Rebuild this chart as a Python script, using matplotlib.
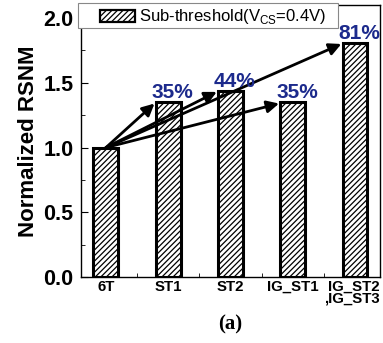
import matplotlib
matplotlib.use('Agg')
import matplotlib.pyplot as plt
from matplotlib.patches import Rectangle
from matplotlib.ticker import MultipleLocator
import numpy as np

cells = ['6T', 'ST1', 'ST2', 'IG_ST1', 'IG_ST2\n,IG_ST3']
rsnm = [1.0, 1.35, 1.44, 1.35, 1.81]
legend_label = 'Sub-threshold(V$_{\\mathregular{CS}}$=0.4V)'

plt.rcParams['font.family'] = ['Liberation Sans', 'DejaVu Sans']
plt.rcParams['hatch.linewidth'] = 0.9

fig = plt.figure(figsize=(3.83, 3.43), dpi=100)
ax = fig.add_axes([0.2115, 0.1924, 0.7805, 0.7926])

x = np.arange(len(cells))
w = 0.4
ax.bar(x, rsnm, width=w, color='white', edgecolor='black',
       linewidth=2.2, hatch='//////', zorder=2)

# arrows from the 6T reference to each improved cell
base = rsnm[0]
for i in range(1, len(cells)):
    ax.annotate('', xy=(x[i] - w / 2 - 0.02, rsnm[i] - 0.01), xytext=(x[0], base),
                arrowprops=dict(arrowstyle='-|>', color='black', lw=2.0,
                                mutation_scale=18, shrinkA=0, shrinkB=0),
                zorder=3)
    pct = round((rsnm[i] - base) * 100)
    ax.annotate('%d%%' % pct, xy=(x[i] + 0.07, rsnm[i]), xytext=(0, 0),
                textcoords='offset points', ha='center', va='bottom',
                fontsize=15, fontweight='bold', color='#1c2a8c', zorder=4)

ax.set_xlim(-0.4, 4.4)
ax.set_ylim(0, 2.1)
ax.set_xticks(x)
ax.set_xticklabels(cells[:-1] + [''], fontsize=10.8, fontweight='bold')
# last label is two lines, right-aligned against the edge
ax.annotate(cells[-1], xy=(x[-1], 0), xytext=(17.5, -2),
            textcoords='offset points', ha='right', va='top',
            fontsize=10.8, fontweight='bold', linespacing=0.8,
            annotation_clip=False)
ax.xaxis.set_minor_locator(MultipleLocator(0.5))
ax.yaxis.set_major_locator(MultipleLocator(0.5))
ax.yaxis.set_minor_locator(MultipleLocator(0.25))
ax.tick_params(axis='both', which='both', direction='in')
ax.tick_params(axis='x', which='major', length=0, pad=2)
ax.tick_params(axis='x', which='minor', length=3)
ax.tick_params(axis='y', which='major', length=5, labelsize=15.5, pad=5.5)
ax.tick_params(axis='y', which='minor', length=3)
for lab in ax.get_yticklabels():
    lab.set_fontweight('bold')
ax.set_ylabel('Normalized RSNM', fontsize=16, fontweight='bold', labelpad=3)
for s in ax.spines.values():
    s.set_linewidth(1.0)

# legend box drawn in figure pixels
W, H = 383, 343
def fx(px):
    return px / W
def fy(py):
    return 1 - py / H
fig.patches.append(Rectangle((fx(78), fy(28)), fx(338) - fx(78), fy(3) - fy(28),
                             transform=fig.transFigure, facecolor='white',
                             edgecolor='#888888', lw=0.8, zorder=5))
fig.patches.append(Rectangle((fx(100), fy(22)), fx(135) - fx(100), fy(10) - fy(22),
                             transform=fig.transFigure, facecolor='white',
                             edgecolor='black', lw=1.6, hatch='//////', zorder=6))
fig.text(fx(139), fy(16), legend_label, ha='left', va='center',
         fontsize=12, zorder=7)

fig.text(0.6, 0.025, '(a)', ha='center', va='bottom', fontsize=15,
         fontweight='bold', family='Liberation Serif')

fig.savefig('out.png', dpi=100)
